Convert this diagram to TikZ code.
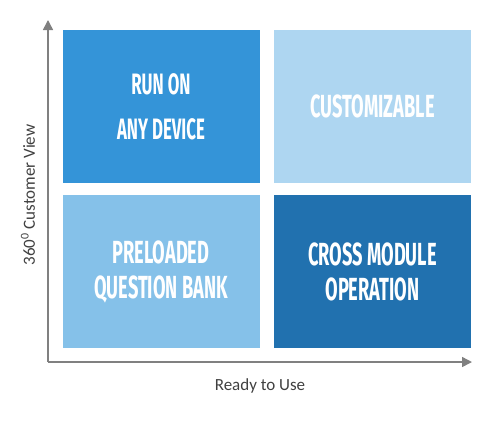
\documentclass[tikz,border=0pt]{standalone}
\usepackage{fontspec}
\setmainfont{Carlito}
\newfontfamily\tilefont[FakeStretch=0.57]{Fira Sans}
\usetikzlibrary{arrows.meta}

\definecolor{tileblue}{RGB}{52,148,216}
\definecolor{tilepale}{RGB}{174,214,241}
\definecolor{tilelight}{RGB}{133,193,233}
\definecolor{tiledark}{RGB}{33,113,175}
\definecolor{axisgray}{RGB}{128,128,128}

\tikzset{
  tile/.style={rectangle, minimum width=197pt, minimum height=153pt, inner sep=0pt,
    text=white, align=center, font=\tilefont\bfseries\fontsize{32}{35}\selectfont},
  axis/.style={draw=axisgray, line width=1.5pt, -{Triangle[length=10pt,width=10pt]}},
  axislabel/.style={text=black!75, font=\fontsize{17}{20}\selectfont}
}

\begin{document}
\begin{tikzpicture}[x=1pt,y=-1pt]
	\useasboundingbox (0,0) rectangle (500,429);
	
	% quadrants
	\node[tile, fill=tileblue, font=\tilefont\bfseries\fontsize{29.5}{45}\selectfont] (run) at (161,106.5) {RUN ON\\ANY DEVICE};
	\node[tile, fill=tilepale] (custom) at (372.5,106.5) {CUSTOMIZABLE};
	\node[tile, fill=tilelight] (bank) at (161,271.5) {PRELOADED\\QUESTION BANK};
	\node[tile, fill=tiledark] (cross) at (372.5,271.5) {CROSS MODULE\\OPERATION};
	
	% axes
	\coordinate (origin) at (48,362);
	\coordinate (ytop) at (48,20);
	\coordinate (xend) at (472,362);
	\draw[axis] (origin) -- (ytop);
	\draw[axis] (origin) -- (xend);
	
	% axis labels
	\node[axislabel] (xlabel) at (260,386) {Ready to Use};
	\node[axislabel, rotate=90] (ylabel) at (28,195) {360\textsuperscript{0} Customer View};
	
\end{tikzpicture}
\end{document}
